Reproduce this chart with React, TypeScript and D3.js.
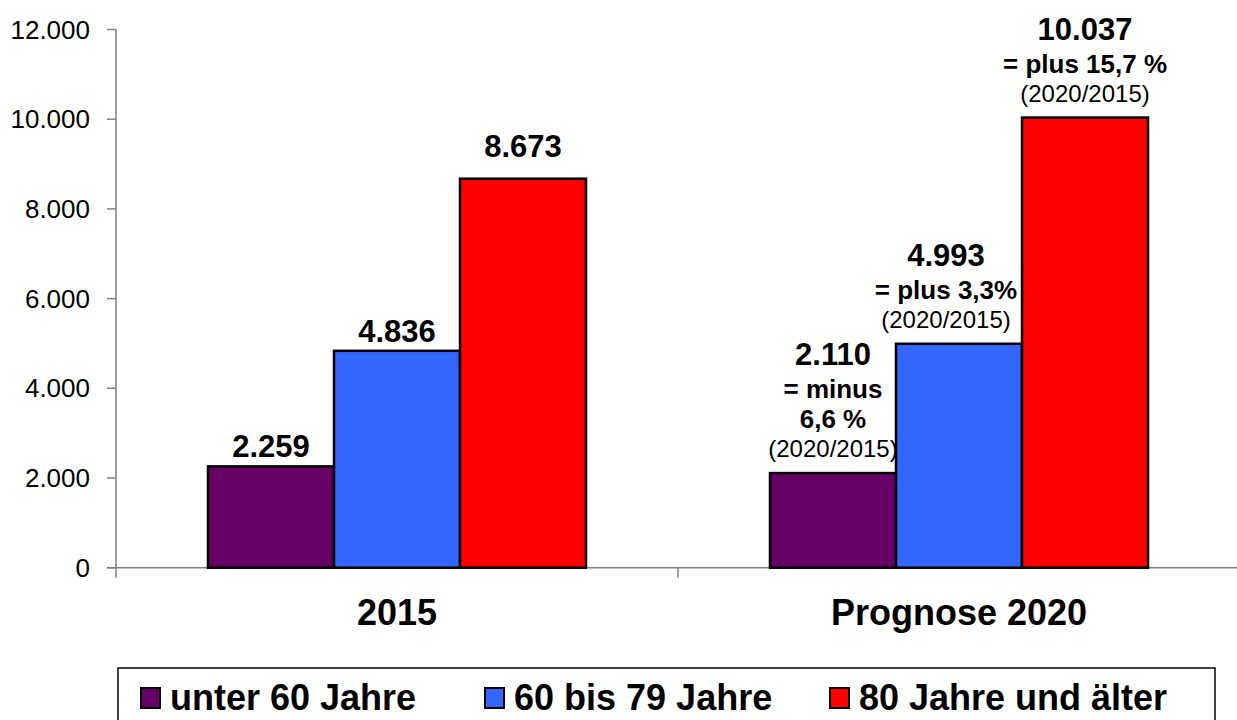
import { useEffect, useRef } from "react";
import * as d3 from "d3";

const categories = ["2015", "Prognose 2020"];
const seriesNames = ["unter 60 Jahre", "60 bis 79 Jahre", "80 Jahre und älter"];
const seriesColors = ["#660066", "#3366FF", "#FF0000"];
const values2015 = [2259, 4836, 8673];
const values2020 = [2110, 4993, 10037];
const yTicks = [0, 2000, 4000, 6000, 8000, 10000, 12000];
// extra annotation lines under the value labels of 2020
const notes2020 = [
  ["= minus", "6,6 %", "(2020/2015)"],
  ["= plus 3,3%", "(2020/2015)"],
  ["= plus 15,7 %", "(2020/2015)"],
];

const fmt = (v: number) => d3.format(",")(v).replace(/,/g, ".");

function App() {
  const ref = useRef<SVGSVGElement | null>(null);

  useEffect(() => {
    const svg = d3.select(ref.current);
    svg.selectAll("*").remove();

    const font = "'Liberation Sans', Arial, sans-serif";
    const left = 116;
    const right = 1240;

    const x = d3.scaleBand().domain(categories).range([left, right]);
    const inner = d3
      .scaleBand()
      .domain(seriesNames)
      .range([0, x.bandwidth()])
      .paddingOuter(0.73)
      .paddingInner(0);
    const y = d3.scaleLinear().domain([0, 12000]).range([567.7, 29.5]);

    const data = [values2015, values2020];

    // axes
    const g = svg.append("g").attr("font-family", font);
    g.append("line")
      .attr("x1", left).attr("x2", left)
      .attr("y1", y(12000)).attr("y2", y(0) + 10)
      .attr("stroke", "#808080").attr("stroke-width", 1.5);
    g.append("line")
      .attr("x1", left - 9).attr("x2", right)
      .attr("y1", y(0)).attr("y2", y(0))
      .attr("stroke", "#808080").attr("stroke-width", 1.5);
    g.selectAll(".yt")
      .data(yTicks)
      .enter()
      .append("line")
      .attr("x1", left - 9).attr("x2", left)
      .attr("y1", (d) => y(d)).attr("y2", (d) => y(d))
      .attr("stroke", "#808080").attr("stroke-width", 1.5);
    g.selectAll(".yl")
      .data(yTicks)
      .enter()
      .append("text")
      .attr("x", 90)
      .attr("y", (d) => y(d) + 9)
      .attr("text-anchor", "end")
      .attr("font-size", 26)
      .text((d) => fmt(d));
    // category tick marks
    g.selectAll(".xt")
      .data(categories.slice(1))
      .enter()
      .append("line")
      .attr("x1", (d) => x(d)!).attr("x2", (d) => x(d)!)
      .attr("y1", y(0)).attr("y2", y(0) + 10)
      .attr("stroke", "#808080").attr("stroke-width", 1.5);
    g.selectAll(".xl")
      .data(categories)
      .enter()
      .append("text")
      .attr("x", (d) => x(d)! + x.bandwidth() / 2)
      .attr("y", 625)
      .attr("text-anchor", "middle")
      .attr("font-size", 36)
      .attr("font-weight", "bold")
      .text((d) => d);

    // bars
    categories.forEach((cat, ci) => {
      const grp = g.append("g").attr("transform", `translate(${x(cat)},0)`);
      grp.selectAll("rect")
        .data(data[ci])
        .enter()
        .append("rect")
        .attr("x", (_, i) => inner(seriesNames[i])!)
        .attr("y", (d) => y(d))
        .attr("width", inner.bandwidth())
        .attr("height", (d) => y(0) - y(d))
        .attr("fill", (_, i) => seriesColors[i])
        .attr("stroke", "#000")
        .attr("stroke-width", 2.5);

      data[ci].forEach((v, i) => {
        // the middle 2020 label block is nudged left, clear of the red bar
        const shift = ci === 1 && i === 1 ? -13 : 0;
        const cx = inner(seriesNames[i])! + inner.bandwidth() / 2 + shift;
        const notes = ci === 1 ? notes2020[i] : [];
        const lines = [
          { t: fmt(v), size: 31, bold: true },
          ...notes.map((t) => ({
            t,
            size: t.startsWith("(") ? 24 : 26,
            bold: !t.startsWith("("),
          })),
        ];
        // the tallest label of 2015 sits a bit higher above its bar
        const lift = notes.length ? 16 : ci === 0 && i === 2 ? 22 : 9;
        let base = y(v) - lift;
        const ys: number[] = [];
        for (let k = lines.length - 1; k >= 0; k--) {
          ys[k] = base;
          if (k > 0) base -= k === 1 ? 33 : lines[k].size === 24 ? 29 : 30;
        }
        lines.forEach((l, k) => {
          grp.append("text")
            .attr("x", cx)
            .attr("y", ys[k])
            .attr("text-anchor", "middle")
            .attr("font-size", l.size)
            .attr("font-weight", l.bold ? "bold" : "normal")
            .text(l.t);
        });
      });
    });

    // legend
    const lg = g.append("g");
    lg.append("rect")
      .attr("x", 118).attr("y", 668)
      .attr("width", 1097).attr("height", 80)
      .attr("fill", "#fff").attr("stroke", "#000").attr("stroke-width", 1.5);
    const legendX = [141, 485, 830];
    seriesNames.forEach((s, i) => {
      lg.append("rect")
        .attr("x", legendX[i]).attr("y", 688)
        .attr("width", 19).attr("height", 20)
        .attr("fill", seriesColors[i])
        .attr("stroke", "#000").attr("stroke-width", 2);
      lg.append("text")
        .attr("x", legendX[i] + 29).attr("y", 710)
        .attr("font-size", 36).attr("font-weight", "bold")
        .text(s);
    });
  }, []);

  return (
    <svg
      ref={ref}
      width={1237}
      height={720}
      style={{ position: "absolute", left: 0, top: 0, background: "#fff" }}
    />
  );
}

export default App;
